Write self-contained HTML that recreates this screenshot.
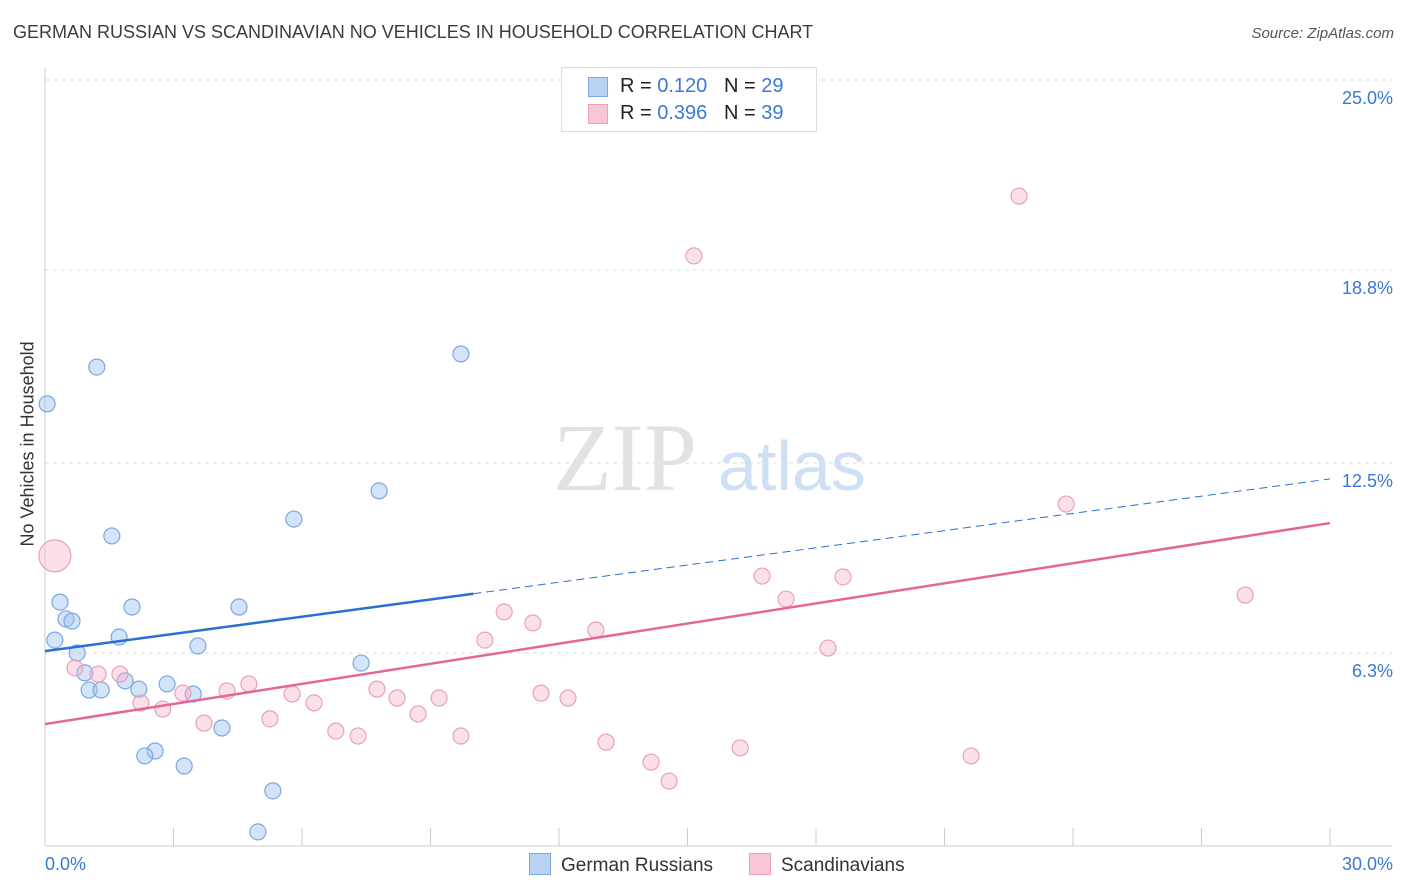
<!DOCTYPE html>
<html><head><meta charset="utf-8">
<style>
body{margin:0;background:#fff;font-family:"Liberation Sans",sans-serif;}
#wrap{position:relative;width:1406px;height:892px;overflow:hidden;}
.t{position:absolute;white-space:nowrap;}
</style></head>
<body>
<div id="wrap">
<div class="t" style="left:13px;top:22px;font-size:18px;color:#3c3c3c;">GERMAN RUSSIAN VS SCANDINAVIAN NO VEHICLES IN HOUSEHOLD CORRELATION CHART</div>
<div class="t" style="right:12px;top:25px;font-size:15px;font-style:italic;color:#555;">Source: ZipAtlas.com</div>
<div class="t" style="left:-62px;top:446px;transform:rotate(-90deg);font-size:18px;color:#333;width:180px;text-align:center;">No Vehicles in Household</div>
<svg id="svg" width="1406" height="892" style="position:absolute;left:0;top:0"></svg>
</div>
<script>
const yTicks=[25.0,18.8,12.5,6.3];
const yTickLabels=["25.0%","18.8%","12.5%","6.3%"];
const xTicks=[0,3,6,9,12,15,18,21,24,27,30];
const blueX=[0.05,1.21,9.71,7.80,5.81,1.56,0.35,0.49,0.63,2.03,4.53,0.23,1.73,3.57,0.75,0.93,1.87,1.03,1.31,2.19,2.85,3.46,7.38,4.13,2.57,2.33,3.25,5.32,4.97];
const blueY=[14.43,15.63,16.06,11.59,10.67,10.12,7.96,7.41,7.34,7.80,7.80,6.72,6.82,6.53,6.30,5.65,5.39,5.09,5.09,5.12,5.29,4.96,5.97,3.85,3.10,2.94,2.61,1.80,0.46];
const pinkX=[0.23,22.74,15.15,23.84,16.74,18.63,17.30,28.02,10.72,11.39,12.86,10.27,18.28,0.70,1.24,1.75,4.76,3.22,4.25,5.77,7.75,11.58,12.21,8.22,9.20,2.24,2.75,6.28,8.71,5.25,3.71,6.79,7.31,9.71,13.10,16.23,21.62,14.15,14.57];
const pinkY=[9.47,21.21,19.26,11.16,8.81,8.78,8.06,8.19,7.64,7.28,7.05,6.72,6.46,5.81,5.61,5.61,5.29,4.99,5.06,4.96,5.12,4.99,4.83,4.83,4.83,4.67,4.47,4.67,4.31,4.15,4.01,3.75,3.59,3.59,3.39,3.20,2.94,2.74,2.12];
const pinkR=[16];
const blueTrend=[6.36,11.98];const blueSolidEnd=10;
const pinkTrend=[3.98,10.54];
const X=v=>45+v/30*1285;
const Y=v=>846-v/25*766;
const svg=document.getElementById('svg');const NS='http://www.w3.org/2000/svg';
function mk(tag,attrs,name){const e=document.createElementNS(NS,tag);for(const k in attrs)e.setAttribute(k,attrs[k]);


svg.appendChild(e);return e;}
yTicks.forEach((t,i)=>{const y=Y(t);mk('line',{x1:45,x2:1392,y1:y,y2:y,stroke:'#ddd','stroke-dasharray':'4,4'},'gridline');
const tx=mk('text',{x:1393,y:y+24,'text-anchor':'end','font-size':18,fill:'#3b78d8','font-family':'Liberation Sans'},'y-tick-label');tx.textContent=yTickLabels[i];});
mk('line',{x1:45,x2:45,y1:68,y2:846,stroke:'#ccc'},'y-axis-line');
mk('line',{x1:45,x2:1392,y1:846,y2:846,stroke:'#ccc'},'x-axis-line');
xTicks.forEach(t=>{mk('line',{x1:X(t),x2:X(t),y1:828,y2:846,stroke:'#ccc'},'x-tick');});
let t0=mk('text',{x:45,y:870,'font-size':18,fill:'#3b78d8','font-family':'Liberation Sans'},'x-tick-label');t0.textContent='0.0%';
let t1=mk('text',{x:1393,y:870,'text-anchor':'end','font-size':18,fill:'#3b78d8','font-family':'Liberation Sans'},'x-tick-label');t1.textContent='30.0%';
let w1=mk('text',{x:553,y:490,'font-size':96,fill:'#e2e2e2','font-family':'Liberation Serif'},'watermark-zip');w1.textContent='ZIP';
let w2=mk('text',{x:718,y:490,'font-size':70,fill:'#cfe0f5','font-family':'Liberation Sans'},'watermark-atlas');w2.textContent='atlas';
blueX.forEach((x,i)=>{mk('circle',{cx:X(x),cy:Y(blueY[i]),r:8,fill:'rgba(160,196,240,0.45)',stroke:'#7aa8e0','stroke-width':1.2},'german-russian-point');});
pinkX.forEach((x,i)=>{mk('circle',{cx:X(x),cy:Y(pinkY[i]),r:pinkR[i]||8,fill:'rgba(245,175,200,0.4)',stroke:'#eaa0bb','stroke-width':1.2},'scandinavian-point');});
const bm=blueTrend[0]+(blueTrend[1]-blueTrend[0])*blueSolidEnd/30;
mk('line',{x1:X(0),y1:Y(blueTrend[0]),x2:X(blueSolidEnd),y2:Y(bm),stroke:'#2a6fd6','stroke-width':2.5},'german-russian-trendline');
mk('line',{x1:X(blueSolidEnd),y1:Y(bm),x2:X(30),y2:Y(blueTrend[1]),stroke:'#2a6fd6','stroke-width':1,'stroke-dasharray':'8,5'},'german-russian-trendline-extension');
mk('line',{x1:X(0),y1:Y(pinkTrend[0]),x2:X(30),y2:Y(pinkTrend[1]),stroke:'#e4659a','stroke-width':2.5},'scandinavian-trendline');
</script>
<div class="t" style="left:561px;top:67px;width:254px;height:63px;border:1px solid #ddd;background:#fff;font-size:20px;color:#222;">
<div style="position:absolute;left:26px;top:9px;width:18px;height:18px;background:#b9d3f5;border:1px solid #7aa8e0;"></div>
<div class="t" style="left:58px;top:7px;">R = <span style="color:#3b78d8">0.120</span>&nbsp;&nbsp;&nbsp;N = <span style="color:#3b78d8">29</span></div>
<div style="position:absolute;left:26px;top:36px;width:18px;height:18px;background:#f9c6d8;border:1px solid #eaa0bb;"></div>
<div class="t" style="left:58px;top:34px;">R = <span style="color:#3b78d8">0.396</span>&nbsp;&nbsp;&nbsp;N = <span style="color:#3b78d8">39</span></div>
</div>
<div class="t" style="left:529px;top:853px;font-size:19px;color:#333;"><span style="display:inline-block;width:20px;height:20px;background:#b9d3f5;border:1px solid #7aa8e0;vertical-align:-4px;margin-right:10px;"></span>German Russians</div>
<div class="t" style="left:749px;top:853px;font-size:19px;color:#333;"><span style="display:inline-block;width:20px;height:20px;background:#f9c6d8;border:1px solid #eaa0bb;vertical-align:-4px;margin-right:10px;"></span>Scandinavians</div>
</body></html>
